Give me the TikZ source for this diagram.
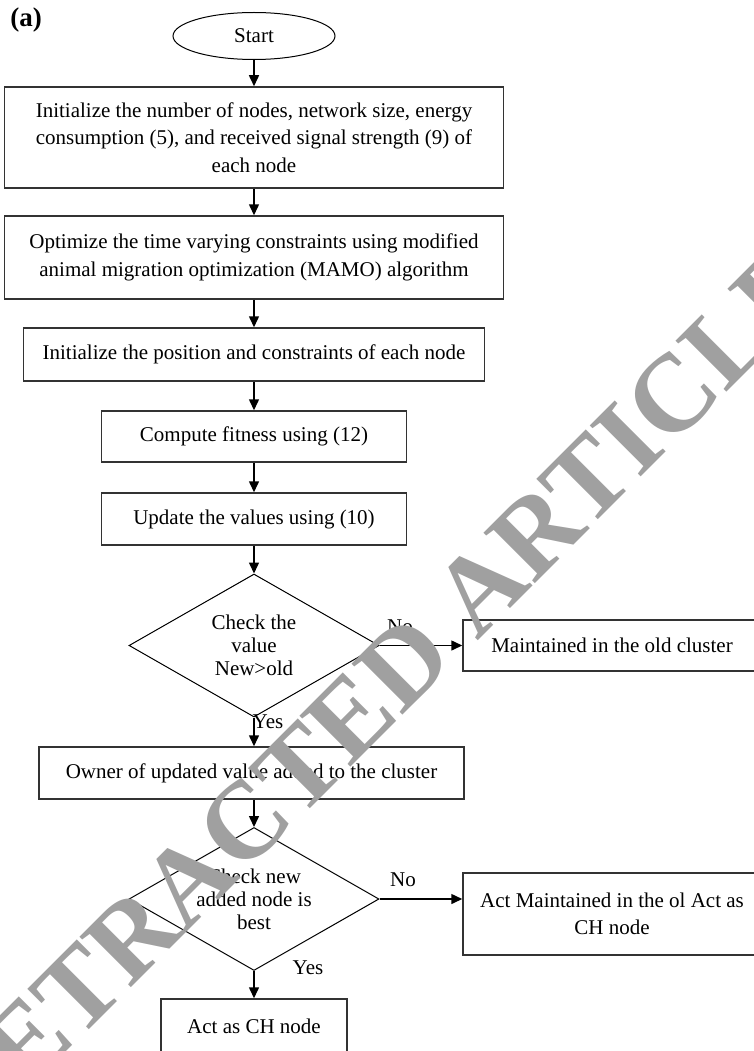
\documentclass[tikz,border=0pt]{standalone}
\usepackage{fontspec}
\setmainfont{Liberation Serif}
\usetikzlibrary{shapes.geometric,arrows.meta}
\definecolor{wmgray}{RGB}{160,160,160}
\begin{document}
\begin{tikzpicture}[
    x=1pt,y=-1pt,
    font=\fontsize{21}{27.5}\selectfont,
    proc/.style={draw=black!80,rectangle,line width=1.5pt,inner sep=0pt,align=center},
    term/.style={draw=black,ellipse,line width=1pt,minimum width=162pt,minimum height=47pt,inner sep=0pt},
    decide/.style={draw=black,diamond,line width=1pt,aspect=1.75,minimum width=250pt,minimum height=143pt,inner sep=0pt,align=center,font=\fontsize{21}{23}\selectfont},
    arr/.style={line width=1.5pt,-{Triangle[length=11pt,width=10pt]}},
    lbl/.style={inner sep=0pt}
  ]
  \useasboundingbox (0,0) rectangle (753,1051);
  \node[font=\fontsize{27}{30}\selectfont\bfseries] (tag) at (26,20) {(a)};
  \node[term] (start) at (254,36) {Start};
  \node[proc,minimum width=499pt,minimum height=101pt] (init) at (254,137.5) {Initialize the number of nodes, network size, energy\\consumption (5), and received signal strength (9) of\\each node};
  \node[proc,minimum width=499pt,minimum height=83pt] (optim) at (254,257.5) {Optimize the time varying constraints using modified\\animal migration optimization (MAMO) algorithm};
  \node[proc,minimum width=461pt,minimum height=53pt] (pos) at (254,354.5) {Initialize the position and constraints of each node};
  \node[proc,minimum width=305pt,minimum height=51pt] (fit) at (254,436.5) {Compute fitness using (12)};
  \node[proc,minimum width=305pt,minimum height=52pt] (upd) at (254,519) {Update the values using (10)};
  \node[decide] (chk1) at (254,645.5) {Check the\\value\\New>old};
  \node[proc,minimum width=298pt,minimum height=51pt] (old) at (612,645.5) {Maintained in the old cluster};
  \node[proc,minimum width=425pt,minimum height=52pt] (owner) at (251.5,773) {Owner of updated value added to the cluster};
  \node[decide] (chk2) at (254,899) {Check new\\added node is\\best};
  \node[proc,minimum width=298pt,minimum height=82pt] (actold) at (612,914) {Act Maintained in the ol Act as\\CH node};
  \node[proc,minimum width=186pt,minimum height=54pt] (ch) at (254,1026) {Act as CH node};

  % labels on the branches
  \node[lbl] (no1) at (400,627) {No};
  \node[lbl] (yes1) at (268,722) {Yes};
  \node[lbl] (no2) at (403,880) {No};
  \node[lbl] (yes2) at (308,968) {Yes};

  \draw[arr] (start) -- (init);
  \draw[arr] (init) -- (optim);
  \draw[arr] (optim) -- (pos);
  \draw[arr] (pos) -- (fit);
  \draw[arr] (fit) -- (upd);
  \draw[arr] (upd) -- (chk1);
  \draw[arr] (chk1.east) -- (old.west);
  \draw[arr] (chk1.south) -- (chk1.south |- owner.north);
  \draw[arr] (chk1.south |- owner.south) -- (chk2.north);
  \draw[arr] (chk2.east) -- (chk2.east -| actold.west);
  \draw[arr] (chk2.south) -- (ch.north);

  % watermark
  \node[rotate=45,text=wmgray,inner sep=0pt,font=\fontsize{110}{110}\selectfont\bfseries] (wm) at (374,694) {RETRACTED ARTICLE};
\end{tikzpicture}
\end{document}
